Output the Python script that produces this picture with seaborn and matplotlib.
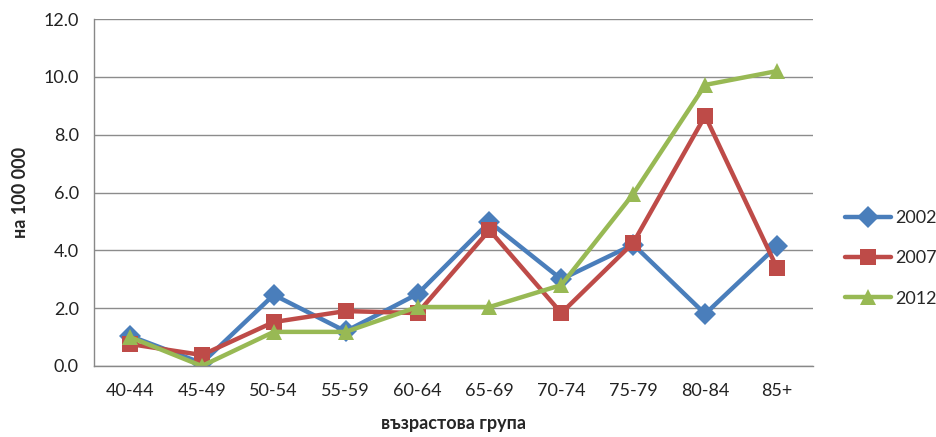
import matplotlib
matplotlib.use("Agg")
import matplotlib.pyplot as plt
import seaborn as sns
import pandas as pd
import numpy as np
from matplotlib.ticker import FixedLocator

age_groups = ["40-44", "45-49", "50-54", "55-59", "60-64", "65-69", "70-74", "75-79", "80-84", "85+"]
rate_2002 = [1.04, 0.10, 2.46, 1.20, 2.49, 4.98, 3.00, 4.20, 1.80, 4.15]
rate_2007 = [0.76, 0.38, 1.52, 1.90, 1.83, 4.70, 1.83, 4.26, 8.65, 3.39]
rate_2012 = [1.00, 0.00, 1.18, 1.18, 2.04, 2.04, 2.80, 5.95, 9.72, 10.20]
years = ["2002", "2007", "2012"]

df = pd.DataFrame({
    "група": age_groups * 3,
    "стойност": rate_2002 + rate_2007 + rate_2012,
    "година": [y for y in years for _ in age_groups],
})
df["x"] = df["група"].map({g: i for i, g in enumerate(age_groups)})

sns.set_theme(style="white")
plt.rcParams["font.family"] = ["Lato", "DejaVu Sans"]

palette = {"2002": "#4A7EBB", "2007": "#BE4B48", "2012": "#98B954"}
markers = {"2002": "D", "2007": "s", "2012": "^"}

fig = plt.figure(figsize=(9.37, 4.37), dpi=100)
ax = fig.add_axes([94 / 937, 71 / 437, (813 - 94) / 937, (366 - 19) / 437])

sns.lineplot(data=df, x="x", y="стойност", hue="година", style="година",
             palette=palette, markers=markers, dashes=False, linewidth=3.2,
             markersize=11.5, markeredgewidth=0, ax=ax, legend=True)

ax.set_xlim(-0.5, len(age_groups) - 0.5)
ax.set_ylim(0, 12)
ax.set_yticks(np.arange(0, 12.1, 2))
ax.set_yticklabels([f"{v:.1f}" for v in np.arange(0, 12.1, 2)], fontsize=13, color="#222222")
ax.set_xticks(range(len(age_groups)))
ax.set_xticklabels(age_groups, fontsize=13, color="#222222")
ax.tick_params(axis="x", which="major", length=0, pad=12)
ax.xaxis.set_minor_locator(FixedLocator(np.arange(-0.5, len(age_groups), 1)))
ax.tick_params(axis="x", which="minor", length=6, color="#888888", width=1, direction="out")
ax.tick_params(axis="y", which="major", length=6, color="#888888", width=1, direction="out", pad=5)

ax.yaxis.grid(True, color="#8C8C8C", linewidth=1)
ax.xaxis.grid(False)
ax.set_axisbelow(True)
for side in ["top", "right"]:
    ax.spines[side].set_visible(False)
for side in ["left", "bottom"]:
    ax.spines[side].set_color("#888888")
    ax.spines[side].set_linewidth(1)

ax.set_xlabel("възрастова група", fontsize=13, fontweight="bold", labelpad=12)
ax.set_ylabel("на 100 000", fontsize=13, fontweight="bold", labelpad=10)

handles, labels = ax.get_legend_handles_labels()
ax.legend(handles, labels, loc="center left", bbox_to_anchor=(1.0, 0.31),
          frameon=False, fontsize=13, handlelength=2.5, labelspacing=1.35,
          handletextpad=0.25, borderaxespad=1.4)

fig.savefig("out.png", dpi=100)
